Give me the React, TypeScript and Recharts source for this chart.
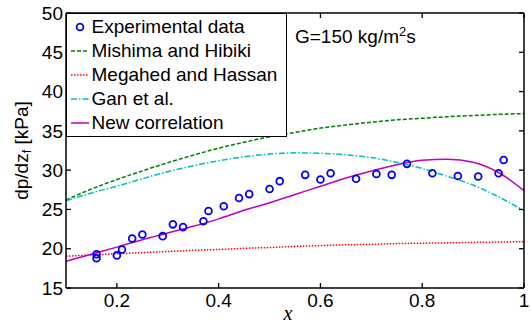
import { ComposedChart, Legend, Line, Scatter, XAxis, YAxis } from "recharts";

const FONT = '"Liberation Sans", Arial, sans-serif';

// vapour quality grid for the model curves
const curveX = [0.1, 0.15, 0.2, 0.25, 0.3, 0.35, 0.4, 0.45, 0.5, 0.55, 0.6, 0.65, 0.7, 0.75, 0.8, 0.85, 0.9, 0.95, 1.0];
const mishima = [26.2, 27.6, 28.8, 29.9, 30.95, 31.9, 32.8, 33.55, 34.25, 34.8, 35.35, 35.75, 36.1, 36.4, 36.6, 36.8, 36.95, 37.1, 37.2];
const megahed = [19.05, 19.2, 19.35, 19.5, 19.65, 19.8, 19.9, 20.05, 20.15, 20.3, 20.4, 20.5, 20.55, 20.65, 20.7, 20.75, 20.8, 20.85, 20.9];
const gan = [26.1, 27.1, 27.95, 28.9, 29.8, 30.55, 31.2, 31.7, 32.05, 32.2, 32.15, 31.95, 31.6, 31.0, 30.2, 29.2, 28.1, 26.6, 24.85];
const newCorrelation = [18.4, 19.3, 20.2, 21.15, 22.0, 22.85, 23.8, 24.9, 25.85, 26.9, 27.95, 29.0, 29.9, 30.7, 31.25, 31.4, 31.0, 29.7, 27.4];

// measurements
const expX = [0.16, 0.16, 0.2, 0.21, 0.23, 0.25, 0.29, 0.31, 0.33, 0.37, 0.38, 0.41, 0.44, 0.46, 0.5, 0.52, 0.57, 0.6, 0.62, 0.67, 0.71, 0.74, 0.77, 0.82, 0.87, 0.91, 0.95, 0.96];
const expY = [19.3, 18.8, 19.15, 19.9, 21.3, 21.8, 21.6, 23.1, 22.75, 23.5, 24.8, 25.4, 26.45, 26.95, 27.6, 28.6, 29.4, 28.8, 29.6, 28.9, 29.5, 29.4, 30.8, 29.6, 29.25, 29.2, 29.6, 31.3];

const xTicks = [0.2, 0.4, 0.6, 0.8, 1];
const yTicks = [15, 20, 25, 30, 35, 40, 45, 50];

const curveData = curveX.map((x, i) => ({
  x,
  mishima: mishima[i],
  megahed: megahed[i],
  gan: gan[i],
  newCorr: newCorrelation[i],
}));
const expData = expX.map((x, i) => ({ x, y: expY[i] }));

const series = [
  { key: "mishima", name: "Mishima and Hibiki", color: "#008000", dash: "4 2" },
  { key: "megahed", name: "Megahed and Hassan", color: "#ff0000", dash: "1.5 1.5" },
  { key: "gan", name: "Gan et al.", color: "#00bfbf", dash: "6 2 1.5 2" },
  { key: "newCorr", name: "New correlation", color: "#bf00bf", dash: undefined as string | undefined },
];

const BLUE = "#0000ff";
const TICK_LEN = 5;
const BOTTOM_GAP = 6;
const LEFT_GAP = 3;

function Ring(props: any) {
  return <circle cx={props.cx} cy={props.cy} r={3.4} fill="none" stroke={BLUE} strokeWidth={1.8} />;
}

// matlab style ticks: marks point into the plot box
function BottomTick({ x, y, payload }: any) {
  const base = y - BOTTOM_GAP;
  return (
    <g>
      <line x1={x} x2={x} y1={base} y2={base - TICK_LEN} stroke="#000" strokeWidth={1.3} />
      <text x={x} y={y} dy="0.71em" textAnchor="middle" fontSize={19} fill="#000" fontFamily={FONT}>
        {String(payload.value)}
      </text>
    </g>
  );
}

function LeftTick({ x, y, payload }: any) {
  const base = x + LEFT_GAP;
  return (
    <g>
      <line x1={base} x2={base + TICK_LEN} y1={y} y2={y} stroke="#000" strokeWidth={1.3} />
      <text x={x} y={y} dy="0.355em" textAnchor="end" fontSize={19} fill="#000" fontFamily={FONT}>
        {String(payload.value)}
      </text>
    </g>
  );
}

function TopTick({ x, y }: any) {
  return <line x1={x} x2={x} y1={y} y2={y + TICK_LEN} stroke="#000" strokeWidth={1.3} />;
}

function RightTick({ x, y }: any) {
  return <line x1={x} x2={x - TICK_LEN} y1={y} y2={y} stroke="#000" strokeWidth={1.3} />;
}

function YLabel({ viewBox }: any) {
  const cx = 21;
  const cy = viewBox.y + viewBox.height / 2;
  return (
    <text x={cx} y={cy} transform={`rotate(-90 ${cx} ${cy})`} textAnchor="middle" dominantBaseline="central" fontSize={19} fill="#000" fontFamily={FONT}>
      dp/dz
      <tspan dy={5} fontSize={13}>f</tspan>
      <tspan dy={-5}> [kPa]</tspan>
    </text>
  );
}

function XLabel({ viewBox }: any) {
  return (
    <text x={viewBox.x + viewBox.width / 2 - 7} y={viewBox.y + 32} textAnchor="middle" fontSize={20} fontStyle="italic" fontFamily='"Liberation Serif", serif' fill="#000">
      x
    </text>
  );
}

function LegendBox() {
  const row = { display: "flex", alignItems: "center", height: 24 } as const;
  return (
    <div style={{ boxSizing: "border-box", width: 221, height: 124, border: "1.5px solid #000", background: "#fff", paddingTop: 1, paddingLeft: 3.5, fontFamily: FONT, fontSize: 19, color: "#000", lineHeight: "24px" }}>
      <div style={row}>
        <svg width={18} height={24}>
          <circle cx={9} cy={12} r={3.4} fill="none" stroke={BLUE} strokeWidth={1.8} />
        </svg>
        <span style={{ marginLeft: 3 }}>Experimental data</span>
      </div>
      {series.map((s) => (
        <div key={s.key} style={row}>
          <svg width={18} height={24}>
            <line x1={0} y1={12} x2={18} y2={12} stroke={s.color} strokeWidth={1.5} strokeDasharray={s.dash} />
          </svg>
          <span style={{ marginLeft: 3 }}>{s.name}</span>
        </div>
      ))}
    </div>
  );
}

export default function App() {
  const axisStroke = { stroke: "#000", strokeWidth: 1.5 };
  return (
    <div style={{ position: "fixed", left: 0, top: 0, width: 531, height: 333, background: "#fff" }}>
      <ComposedChart width={531} height={333} data={curveData} margin={{ top: 12, right: 6, left: 0, bottom: 0 }} style={{ fontFamily: FONT }}>
        <XAxis
          xAxisId="b"
          dataKey="x"
          type="number"
          domain={[0.1, 1]}
          ticks={xTicks}
          interval={0}
          tickSize={0}
          tickMargin={BOTTOM_GAP}
          height={45}
          axisLine={axisStroke}
          tickLine={false}
          tick={<BottomTick />}
          label={<XLabel />}
        />
        <XAxis xAxisId="t" orientation="top" dataKey="x" type="number" domain={[0.1, 1]} ticks={xTicks} interval={0} tickSize={0} tickMargin={0} height={1} tickLine={false} tick={<TopTick />} axisLine={axisStroke} />
        <YAxis
          yAxisId="l"
          type="number"
          domain={[15, 50]}
          ticks={yTicks}
          interval={0}
          tickSize={0}
          tickMargin={LEFT_GAP}
          width={66}
          axisLine={axisStroke}
          tickLine={false}
          tick={<LeftTick />}
          label={<YLabel />}
        />
        <YAxis yAxisId="r" orientation="right" type="number" domain={[15, 50]} ticks={yTicks} interval={0} tickSize={0} tickMargin={0} width={1} tickLine={false} tick={<RightTick />} axisLine={axisStroke} />
        {series.map((s) => (
          <Line
            key={s.key}
            xAxisId="b"
            yAxisId="l"
            type="monotone"
            dataKey={s.key}
            name={s.name}
            stroke={s.color}
            strokeWidth={1.5}
            strokeDasharray={s.dash}
            dot={false}
            activeDot={false}
            isAnimationActive={false}
          />
        ))}
        {/* the top/right axes share the same domain and range, so the points sit on them */}
        <Scatter xAxisId="t" yAxisId="r" name="Experimental data" data={expData} dataKey="y" shape={<Ring />} isAnimationActive={false} />
        <Legend layout="horizontal" verticalAlign="middle" align="center" wrapperStyle={{ left: 66, top: 12.5, width: 221, height: 124 }} content={() => <LegendBox />} />
      </ComposedChart>
      <svg width={200} height={60} style={{ position: "absolute", left: 0, top: 0, overflow: "visible", pointerEvents: "none" }}>
        <text x={295} y={43} fontSize={19} fill="#000" fontFamily={FONT}>
          G=150 kg/m
          <tspan dy={-7} fontSize={13}>2</tspan>
          <tspan dy={7}>s</tspan>
        </text>
      </svg>
    </div>
  );
}
